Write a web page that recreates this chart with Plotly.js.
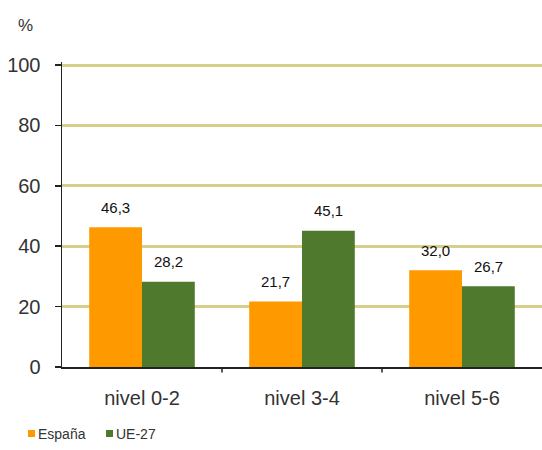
<!DOCTYPE html>
<html>
<head>
<meta charset="utf-8">
<script src="https://cdn.plot.ly/plotly-3.0.1.min.js"></script>
<style>html,body{margin:0;padding:0;background:#fff;}</style>
</head>
<body>
<div id="chart" style="width:542px;height:450px;"></div>
<script>
const categories = ["nivel 0-2", "nivel 3-4", "nivel 5-6"];
const espana = [46.3, 21.7, 32.0];
const ue27 = [28.2, 45.1, 26.7];
const seriesNames = ["España", "UE-27"];
const seriesColors = ['#ff9900', '#4f7a2e'];
const yTicks = [0, 20, 40, 60, 80, 100];

const FONT = 'Arial, "Liberation Sans", sans-serif';
const fmt = v => v.toFixed(1).replace('.', ',');

// plot area geometry (pixels) used only to place legend/labels in paper units
const PL = 62, PW = 480, PB = 367, PH = 305;
const px = x => (x - PL) / PW;
const py = y => (PB - y) / PH;

const traces = [espana, ue27].map((vals, s) => ({
  type: 'bar', name: seriesNames[s], x: categories, y: vals,
  marker: {color: seriesColors[s]}, hoverinfo: 'skip', showlegend: false
}));

const annotations = [];
[espana, ue27].forEach((vals, s) => {
  vals.forEach((v, i) => {
    annotations.push({
      x: categories[i], y: v, xref: 'x', yref: 'y',
      text: fmt(v), showarrow: false,
      xshift: s === 0 ? -27 : 26, yshift: 20, yanchor: 'middle',
      font: {family: FONT, size: 15, color: '#111'}
    });
  });
});
annotations.push({
  xref: 'paper', yref: 'paper', x: px(25), y: py(26), xanchor: 'center', yanchor: 'middle',
  text: '%', showarrow: false,
  font: {family: FONT, size: 17, color: '#333'}
});

// manual legend (tight symbol/text spacing like the original)
const legendX = [28, 106];
const shapes = [];
seriesNames.forEach((name, s) => {
  shapes.push({
    type: 'rect', xref: 'paper', yref: 'paper',
    x0: px(legendX[s]), x1: px(legendX[s] + 7), y0: py(437), y1: py(430),
    fillcolor: seriesColors[s], line: {width: 0}
  });
  annotations.push({
    xref: 'paper', yref: 'paper', x: px(legendX[s] + 8), y: py(433.5),
    xanchor: 'left', yanchor: 'middle', text: name, showarrow: false,
    font: {family: FONT, size: 14, color: '#333'}
  });
});
[1, 2].forEach(k => shapes.push({
  type: 'line', xref: 'paper', yref: 'paper', x0: k / 3, x1: k / 3, y0: 0, y1: -0.018,
  line: {color: '#222', width: 1.5}
}));

const layout = {
  width: 542, height: 450,
  margin: {l: 62, r: 0, t: 62, b: 83},
  paper_bgcolor: '#fff', plot_bgcolor: '#fff',
  barmode: 'group', bargap: 0.34, bargroupgap: 0,
  showlegend: false,
  font: {family: FONT},
  xaxis: {
    type: 'category', showline: true, linecolor: '#222', linewidth: 1.5,
    ticks: '', showgrid: false, zeroline: false,
    tickfont: {family: FONT, size: 20, color: '#333'}, ticklabelstandoff: 12
  },
  yaxis: {
    range: [0, 101], tickvals: yTicks, ticktext: yTicks.map(String),
    showline: true, linecolor: '#222', linewidth: 1.5,
    ticks: 'outside', ticklen: 6, tickcolor: '#222', tickwidth: 1.5,
    showgrid: true, gridcolor: '#d6d08a', gridwidth: 3, zeroline: false,
    tickfont: {family: FONT, size: 20, color: '#333'}, ticklabelstandoff: 10,
    fixedrange: true
  },
  shapes: shapes,
  annotations: annotations
};

Plotly.newPlot('chart', traces, layout, {displayModeBar: false, staticPlot: true});
</script>
</body>
</html>
